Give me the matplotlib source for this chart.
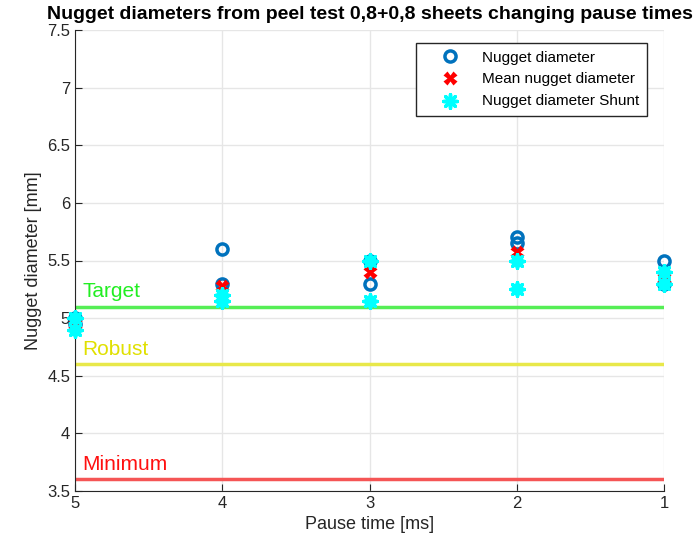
import numpy as np
import matplotlib
matplotlib.use('Agg')
import matplotlib.pyplot as plt

plt.rcParams['font.family'] = ['Liberation Sans', 'DejaVu Sans']

# Pause times and measured diameters
pause = [5, 5, 4, 4, 3, 3, 2, 2, 1, 1]
nugget = [5.0, 4.95, 5.6, 5.3, 5.5, 5.3, 5.7, 5.65, 5.5, 5.3]
mean_pause = [5, 4, 3, 2, 1]
mean_nugget = [4.95, 5.28, 5.4, 5.57, 5.35]
shunt_pause = [5, 5, 4, 4, 3, 3, 2, 2, 1, 1]
shunt = [5.0, 4.9, 5.2, 5.15, 5.5, 5.15, 5.5, 5.25, 5.4, 5.3]

limit_names = ['Target', 'Robust', 'Minimum']
limit_values = [5.1, 4.6, 3.6]
line_colors = ['#55ee55', '#e8e84a', '#f55555']
text_colors = ['#22ee22', '#e0e000', '#ff1010']

fig = plt.figure(figsize=(6.99, 5.48), dpi=100)
ax = fig.add_axes([75/699, 1 - 491/548, 589/699, 461/548])

ax.plot(pause, nugget, 'o', mfc='none', mec='#0072bd', mew=2.5, ms=8,
        label='Nugget diameter', zorder=3, clip_on=False)
ax.plot(mean_pause, mean_nugget, 'X', color='red', ms=10, mec='none',
        label='Mean nugget diameter', zorder=4, clip_on=False)
ax.scatter(shunt_pause, shunt, marker=(8, 2, 0), s=95, color='cyan',
           linewidths=2.5, label='Nugget diameter Shunt', zorder=5, clip_on=False)
ax.scatter(shunt_pause, shunt, marker='o', s=65, color='cyan', zorder=5,
           clip_on=False)

for name, val, lc, tc in zip(limit_names, limit_values, line_colors, text_colors):
    ax.axhline(val, color=lc, lw=2.5, zorder=2)
    ax.text(4.95, val + 0.13, name, color=tc, fontsize=15, va='center')

ax.set_xlim(5, 1)
ax.set_ylim(3.5, 7.5)
ax.set_xticks([5, 4, 3, 2, 1])
ax.set_yticks(np.arange(3.5, 7.51, 0.5))
ax.set_yticklabels(['3.5', '4', '4.5', '5', '5.5', '6', '6.5', '7', '7.5'])
ax.grid(True, color='#e6e6e6', lw=1)
ax.set_axisbelow(True)
ax.tick_params(labelsize=12, colors='#262626', direction='in', length=5)
ax.spines['top'].set_visible(False)
ax.spines['right'].set_visible(False)
for s in ['left', 'bottom']:
    ax.spines[s].set_color('#262626')
ax.set_xlabel('Pause time [ms]', fontsize=13, color='#262626')
ax.set_ylabel('Nugget diameter [mm]', fontsize=13, color='#262626')
ax.set_title('Nugget diameters from peel test 0,8+0,8 sheets changing pause times',
             fontsize=14, fontweight='bold', pad=8)

h, l = ax.get_legend_handles_labels()
leg = ax.legend(h[:3], l[:3], loc='upper right', fontsize=11, fancybox=False,
                edgecolor='#262626', framealpha=1, handletextpad=0.4,
                bbox_to_anchor=(1 - 17/589, 1 - 13/461), borderaxespad=0,
                borderpad=0.5, handlelength=3.4)
leg.get_frame().set_linewidth(1)

fig.savefig('out.png', dpi=100)
